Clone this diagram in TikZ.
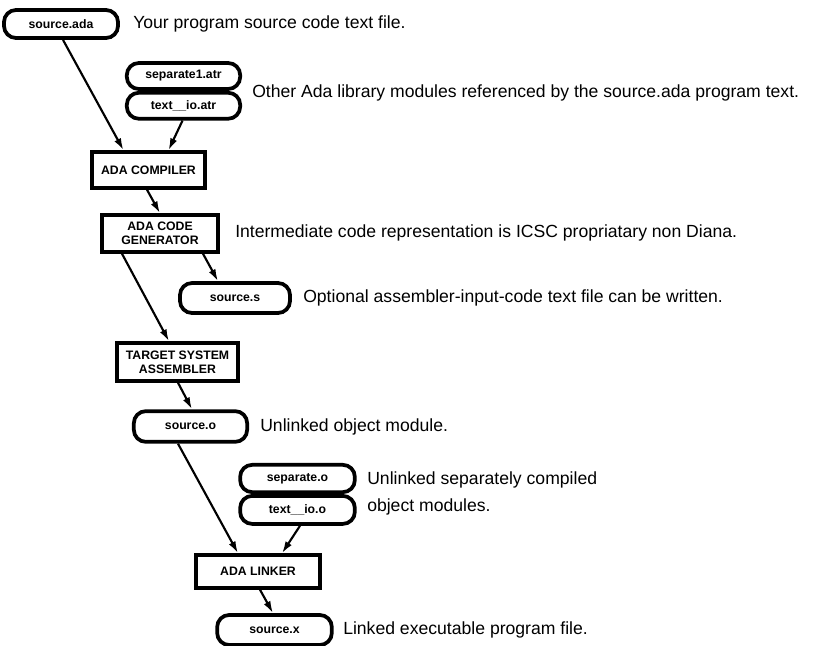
\documentclass[tikz,border=0pt]{standalone}
\usepackage{fontspec}
\setmainfont{Liberation Sans}
\usetikzlibrary{arrows.meta,calc}
\begin{document}
\begin{tikzpicture}[x=0.75pt,y=-0.75pt,
  file/.style={draw,line width=2.8pt,rounded corners=9pt,inner sep=0pt,
    font=\fontsize{9.2}{10.5}\selectfont\bfseries,align=center},
  stage/.style={draw,line width=2.6pt,inner sep=0pt,
    font=\fontsize{9.2}{10.5}\selectfont\bfseries,align=center},
  note/.style={anchor=west,inner sep=0pt,font=\fontsize{13.2}{16}\selectfont},
  flow/.style={line width=1.6pt,-{Latex[length=9pt,width=5.5pt]}}]
\useasboundingbox (0,0) rectangle (818,646);

% files and processing stages
\node[file,minimum width=85.5pt,minimum height=21pt] (srcada) at (61,24) {source.ada};
\node[file,minimum width=85pt,minimum height=19.5pt] (sepatr) at (183.5,76) {separate1.atr};
\node[file,minimum width=85pt,minimum height=19.5pt,anchor=north] (ioatr) at (sepatr.south) {text\_\_io.atr};
\node[stage,minimum width=85pt,minimum height=27pt] (comp) at (148.5,170) {ADA COMPILER};
\node[stage,minimum width=87pt,minimum height=27.75pt] (gen) at (160,233.5) {ADA CODE\\GENERATOR};
\node[file,minimum width=82.5pt,minimum height=22.5pt] (srcs) at (235,298) {source.s};
\node[stage,minimum width=90.75pt,minimum height=28.5pt] (asm) at (177.5,362) {TARGET SYSTEM\\ASSEMBLER};
\node[file,minimum width=85pt,minimum height=23pt] (srco) at (190.5,426.5) {source.o};
\node[file,minimum width=86pt,minimum height=20.5pt] (sepo) at (297.5,478.5) {separate.o};
\node[file,minimum width=86pt,minimum height=21pt,anchor=north] (ioo) at (sepo.south) {text\_\_io.o};
\node[stage,minimum width=93pt,minimum height=24.75pt] (link) at (258,571.5) {ADA LINKER};
\node[file,minimum width=86pt,minimum height=22.5pt] (srcx) at (274.5,630) {source.x};

% explanatory notes
\node[note] (n1) at (133,24) {Your program source code text file.};
\node[note] (n2) at (252,93) {Other Ada library modules referenced by the source.ada program text.};
\node[note] (n3) at (235,233) {Intermediate code representation is ICSC propriatary non Diana.};
\node[note] (n4) at (303,298) {Optional assembler-input-code text file can be written.};
\node[note] (n5) at (260,427) {Unlinked object module.};
\node[note] (n6) at (367,480) {Unlinked separately compiled};
\node[note] (n7) at (367,507) {object modules.};
\node[note] (n8) at (343,630) {Linked executable program file.};

% data flow
\draw[flow] ($(srcada.south)+(2,0)$) -- ($(comp.north)+(-25,0)$);
\draw[flow] ($(ioatr.south)+(-1,0)$) -- ($(comp.north)+(20,0)$);
\draw[flow] ($(comp.south)+(-1.5,0)$) -- (gen.north);
\draw[flow] ($(gen.south)+(43,0)$) -- ($(srcs.north)+(-17,0)$);
\draw[flow] ($(gen.south)+(-38,0)$) -- ($(asm.north)+(-8.5,0)$);
\draw[flow] ($(asm.south)+(0.5,0)$) -- ($(srco.north)+(1.5,0)$);
\draw[flow] ($(srco.south)+(-12.5,0)$) -- ($(link.north)+(-20,0)$);
\draw[flow] ($(ioo.south)+(2.5,0)$) -- ($(link.north)+(24,0)$);
\draw[flow] ($(link.south)+(2,0)$) -- ($(srcx.north)+(-1.5,0)$);
\end{tikzpicture}
\end{document}
